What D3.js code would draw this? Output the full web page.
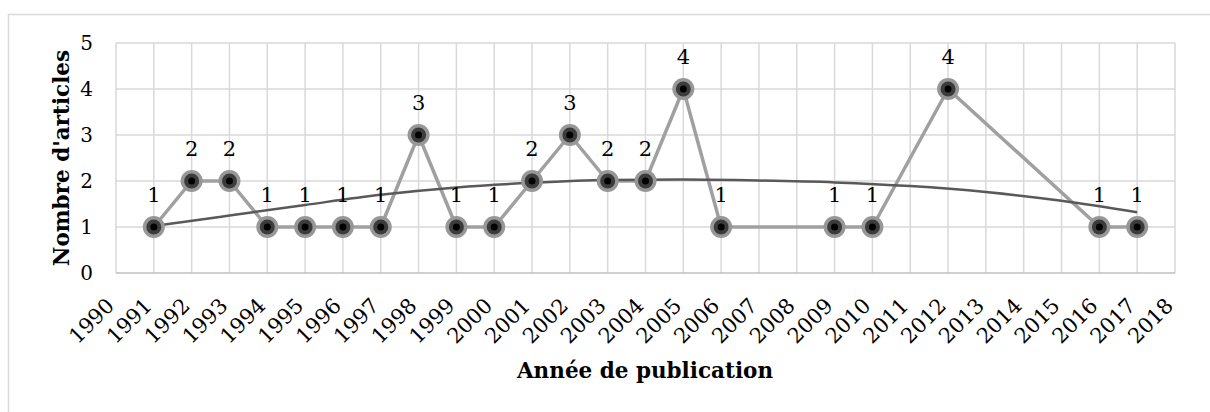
<!DOCTYPE html>
<html>
<head>
<meta charset="utf-8">
<script src="https://cdn.jsdelivr.net/npm/d3@7"></script>
<style>
  body { margin: 0; background: #fff; }
  .chart { width: 1210px; height: 412px; }
  text { font-family: "DejaVu Serif", "Liberation Serif", serif; fill: #000; }
</style>
</head>
<body>
<div class="chart"></div>
<script>
// axis categories (every year shown on the axis)
var years = ["1990","1991","1992","1993","1994","1995","1996","1997","1998","1999",
             "2000","2001","2002","2003","2004","2005","2006","2007","2008","2009",
             "2010","2011","2012","2013","2014","2015","2016","2017","2018"];

// publication counts
var pubYears = ["1991","1992","1993","1994","1995","1996","1997","1998","1999","2000",
                "2001","2002","2003","2004","2005","2006","2009","2010","2012","2016","2017"];
var counts   = [1, 2, 2, 1, 1, 1, 1, 3, 1, 1,
                2, 3, 2, 2, 4, 1, 1, 1, 4, 1, 1];

// trend line
var trendYears  = ["1991","1993","1995","1997","1999","2001","2003","2005","2007","2009","2011","2013","2015","2017"];
var trendValues = [1.02, 1.25, 1.48, 1.70, 1.86, 1.96, 2.02, 2.03, 2.01, 1.97, 1.89, 1.76, 1.57, 1.32];

var yTicks = [0, 1, 2, 3, 4, 5];

var margin = { top: 43, right: 35, bottom: 139, left: 116 },
    width = 1210 - margin.left - margin.right,
    height = 412 - margin.top - margin.bottom;

var svg0 = d3.select(".chart").append("svg")
    .attr("width", 1210)
    .attr("height", 412);

// outer chart border
svg0.append("rect")
    .attr("x", 8.5).attr("y", 14.5)
    .attr("width", 1220).attr("height", 420)
    .attr("fill", "none")
    .attr("stroke", "#d9d9d9")
    .attr("stroke-width", 1.5);

var svg = svg0.append("g")
    .attr("transform", "translate(" + margin.left + "," + margin.top + ")");

var x = d3.scalePoint()
    .domain(years)
    .range([0, width]);

var y = d3.scaleLinear()
    .domain([0, 5])
    .range([height, 0]);

// grid
svg.append("g").selectAll("line.v")
    .data(years)
    .enter().append("line")
    .attr("x1", function(d) { return x(d); })
    .attr("x2", function(d) { return x(d); })
    .attr("y1", 0).attr("y2", height)
    .attr("stroke", "#d9d9d9").attr("stroke-width", 1.5);

svg.append("g").selectAll("line.h")
    .data(yTicks)
    .enter().append("line")
    .attr("x1", 0).attr("x2", width)
    .attr("y1", function(d) { return y(d); })
    .attr("y2", function(d) { return y(d); })
    .attr("stroke", function(d) { return d === 0 ? "#bfbfbf" : "#d9d9d9"; })
    .attr("stroke-width", 1.5);

// y tick labels
var yAxis = d3.axisLeft(y).tickValues(yTicks).tickSize(0).tickPadding(23).tickFormat(d3.format("d"));
svg.append("g")
    .attr("class", "y axis")
    .call(yAxis)
    .call(function(g) { g.select(".domain").remove(); })
    .selectAll("text")
    .style("font-family", "DejaVu Serif")
    .style("font-size", "20px");

// x tick labels, rotated
var xAxis = d3.axisBottom(x).tickSize(0).tickPadding(0);
var gx = svg.append("g")
    .attr("class", "x axis")
    .attr("transform", "translate(0," + height + ")")
    .call(xAxis)
    .call(function(g) { g.select(".domain").remove(); });
gx.selectAll("text")
    .style("font-family", "DejaVu Serif")
    .style("font-size", "21px")
    .attr("text-anchor", "end")
    .attr("dy", null)
    .attr("y", 0)
    .attr("transform", "translate(-1,34) rotate(-45)");

var pts = pubYears.map(function(yr, i) { return { year: yr, count: counts[i] }; });

var line = d3.line()
    .x(function(d) { return x(d.year); })
    .y(function(d) { return y(d.count); });

svg.append("path")
    .datum(pts)
    .attr("fill", "none")
    .attr("stroke", "#a0a0a0")
    .attr("stroke-width", 3.5)
    .attr("stroke-linejoin", "round")
    .attr("d", line);

// trend line
var trend = trendYears.map(function(yr, i) { return { year: yr, v: trendValues[i] }; });
svg.append("path")
    .datum(trend)
    .attr("fill", "none")
    .attr("stroke", "#595959")
    .attr("stroke-width", 2.5)
    .attr("d", d3.line()
        .curve(d3.curveMonotoneX)
        .x(function(d) { return x(d.year); })
        .y(function(d) { return y(d.v); }));

// markers
var m = svg.append("g").selectAll("g.dot")
    .data(pts)
    .enter().append("g")
    .attr("class", "dot")
    .attr("transform", function(d) { return "translate(" + x(d.year) + "," + y(d.count) + ")"; });
m.append("circle")
    .attr("r", 11)
    .attr("fill", "#979797");
m.append("circle")
    .attr("r", 7.5)
    .attr("fill", "#3c3c3c");
m.append("circle")
    .attr("r", 3.5)
    .attr("fill", "#000");

// data labels
svg.append("g").selectAll("text.lbl")
    .data(pts)
    .enter().append("text")
    .attr("x", function(d) { return x(d.year); })
    .attr("y", function(d) { return y(d.count) - 25; })
    .attr("text-anchor", "middle")
    .style("font-size", "21px")
    .text(function(d) { return d.count; });

// axis titles
svg0.append("text")
    .attr("x", 645).attr("y", 378)
    .attr("text-anchor", "middle")
    .style("font-size", "21.5px")
    .style("font-weight", "bold")
    .text("Année de publication");

svg0.append("text")
    .attr("transform", "translate(69," + (margin.top + height / 2) + ") rotate(-90)")
    .attr("text-anchor", "middle")
    .style("font-size", "21.5px")
    .style("font-weight", "bold")
    .text("Nombre d'articles");
</script>
</body>
</html>
